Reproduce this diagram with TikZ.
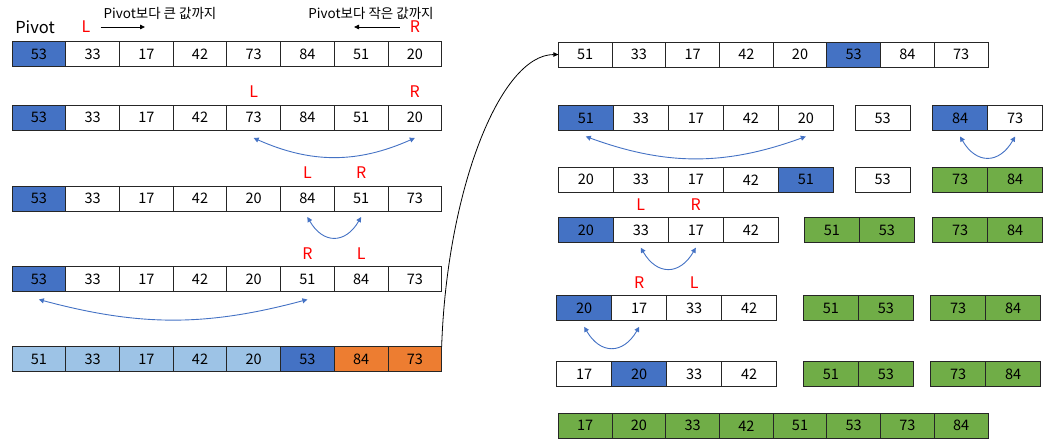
\documentclass[tikz,border=0pt]{standalone}
\usepackage{fontspec}
\setmainfont{Noto Sans CJK KR}
\usetikzlibrary{arrows.meta, positioning}
\definecolor{pivblue}{HTML}{4472C4}
\definecolor{lowblue}{HTML}{9DC3E6}
\definecolor{highorange}{HTML}{ED7D31}
\definecolor{donegreen}{HTML}{70AD47}
\tikzset{
  cell/.style={draw=black!85, line width=0.9pt, minimum width=53.7pt, minimum height=25pt,
    inner sep=0pt, outer sep=0pt, font=\fontsize{14.5}{14.5}\selectfont},
  wcell/.style={cell, minimum width=55pt},
  piv/.style={fill=pivblue},
  low/.style={fill=lowblue},
  high/.style={fill=highorange},
  done/.style={fill=donegreen},
  ptr/.style={text=red, inner sep=0pt, font=\fontsize{16}{16}\selectfont},
  note/.style={inner sep=0pt, font=\fontsize{13.5}{13.5}\selectfont},
  swap/.style={pivblue, line width=0.9pt, {Triangle[length=5pt,width=5pt]}-{Triangle[length=5pt,width=5pt]}},
  dir/.style={line width=0.8pt, -{Triangle[length=5pt,width=4.5pt]}},
}

\begin{document}
\begin{tikzpicture}[x=1pt, y=-1pt, node distance=0pt]
  \useasboundingbox (0,0) rectangle (1048,446);

  % Legende oben links
  \node[inner sep=0pt, font=\fontsize{16.5}{16.5}\selectfont] (pivotlbl) at (35,27) {Pivot};
  \node[ptr] (topL) at (86,27) {L};
  \node[ptr] (topR) at (415,27) {R};
  \node[note] (hintL) at (160,13) {Pivot보다 큰 값까지};
  \node[note] (hintR) at (371,13) {Pivot보다 작은 값까지};
  \coordinate (topLend) at (145,27);
  \coordinate (topRend) at (354,27);
  \draw[dir] ([xshift=10pt]topL.east) -- (topLend);
  \draw[dir] ([xshift=-10pt]topR.west) -- (topRend);

  % Erste Partition (links)
  \node[cell, piv] (l1c1) at (38.9,54) {53};
  \node[cell, right=of l1c1] (l1c2) {33}; \node[cell, right=of l1c2] (l1c3) {17};
  \node[cell, right=of l1c3] (l1c4) {42}; \node[cell, right=of l1c4] (l1c5) {73};
  \node[cell, right=of l1c5] (l1c6) {84}; \node[cell, right=of l1c6] (l1c7) {51};
  \node[cell, right=of l1c7] (l1c8) {20};

  \node[cell, piv] (l2c1) at (38.9,117.5) {53};
  \node[cell, right=of l2c1] (l2c2) {33}; \node[cell, right=of l2c2] (l2c3) {17};
  \node[cell, right=of l2c3] (l2c4) {42}; \node[cell, right=of l2c4] (l2c5) {73};
  \node[cell, right=of l2c5] (l2c6) {84}; \node[cell, right=of l2c6] (l2c7) {51};
  \node[cell, right=of l2c7] (l2c8) {20};
  \node[ptr, above=7pt of l2c5] (l2L) {L};
  \node[ptr, above=7pt of l2c8] (l2R) {R};
  \draw[swap] ([yshift=-8pt]l2c5.south) to[bend right=24] ([yshift=-8pt]l2c8.south);

  \node[cell, piv] (l3c1) at (38.9,198.5) {53};
  \node[cell, right=of l3c1] (l3c2) {33}; \node[cell, right=of l3c2] (l3c3) {17};
  \node[cell, right=of l3c3] (l3c4) {42}; \node[cell, right=of l3c4] (l3c5) {20};
  \node[cell, right=of l3c5] (l3c6) {84}; \node[cell, right=of l3c6] (l3c7) {51};
  \node[cell, right=of l3c7] (l3c8) {73};
  \node[ptr, above=7pt of l3c6] (l3L) {L};
  \node[ptr, above=7pt of l3c7] (l3R) {R};
  \draw[swap] ([yshift=-6pt]l3c6.south) to[bend right=60, looseness=1.5] ([yshift=-6pt]l3c7.south);

  \node[cell, piv] (l4c1) at (38.9,279) {53};
  \node[cell, right=of l4c1] (l4c2) {33}; \node[cell, right=of l4c2] (l4c3) {17};
  \node[cell, right=of l4c3] (l4c4) {42}; \node[cell, right=of l4c4] (l4c5) {20};
  \node[cell, right=of l4c5] (l4c6) {51}; \node[cell, right=of l4c6] (l4c7) {84};
  \node[cell, right=of l4c7] (l4c8) {73};
  \node[ptr, above=7pt of l4c6] (l4R) {R};
  \node[ptr, above=7pt of l4c7] (l4L) {L};
  \draw[swap] ([yshift=-8pt]l4c1.south) to[bend right=15] ([yshift=-8pt]l4c6.south);

  \node[cell, low] (l5c1) at (38.9,359) {51};
  \node[cell, low, right=of l5c1] (l5c2) {33}; \node[cell, low, right=of l5c2] (l5c3) {17};
  \node[cell, low, right=of l5c3] (l5c4) {42}; \node[cell, low, right=of l5c4] (l5c5) {20};
  \node[cell, piv, right=of l5c5] (l5c6) {53}; \node[cell, high, right=of l5c6] (l5c7) {84};
  \node[cell, high, right=of l5c7] (l5c8) {73};

  % Weiter rechts
  \node[cell] (r1c1) at (585.2,54.5) {51};
  \node[cell, right=of r1c1] (r1c2) {33}; \node[cell, right=of r1c2] (r1c3) {17};
  \node[cell, right=of r1c3] (r1c4) {42}; \node[cell, right=of r1c4] (r1c5) {20};
  \node[cell, piv, right=of r1c5] (r1c6) {53}; \node[cell, right=of r1c6] (r1c7) {84};
  \node[cell, right=of r1c7] (r1c8) {73};
  \draw[line width=0.8pt, -{Triangle[length=5pt,width=4.5pt]}] (l5c8.north east)
    .. controls (447,190) and (500,55) .. (r1c1.west);

  \node[wcell, piv] (r2c1) at (585.8,118) {51};
  \node[wcell, right=of r2c1] (r2c2) {33}; \node[wcell, right=of r2c2] (r2c3) {17};
  \node[wcell, right=of r2c3] (r2c4) {42}; \node[wcell, right=of r2c4] (r2c5) {20};
  \node[wcell] (r2d1) at (882.6,118) {53};
  \node[wcell, piv] (r2e1) at (960.1,118) {84}; \node[wcell, right=of r2e1] (r2e2) {73};
  \draw[swap] ([yshift=-6pt]r2c1.south) to[bend right=20] ([yshift=-6pt]r2c5.south);
  \draw[swap] ([yshift=-6pt]r2e1.south) to[bend right=60, looseness=1.5] ([yshift=-6pt]r2e2.south);

  \node[wcell] (r3c1) at (585.8,179.8) {20};
  \node[wcell, right=of r3c1] (r3c2) {33}; \node[wcell, right=of r3c2] (r3c3) {17};
  \node[wcell, right=of r3c3] (r3c4) {42}; \node[wcell, piv, right=of r3c4] (r3c5) {51};
  \node[wcell] (r3d1) at (882.6,179.8) {53};
  \node[wcell, done] (r3e1) at (960.1,179.8) {73}; \node[wcell, done, right=of r3e1] (r3e2) {84};

  \node[wcell, piv] (r4c1) at (585.8,230.2) {20};
  \node[wcell, right=of r4c1] (r4c2) {33}; \node[wcell, right=of r4c2] (r4c3) {17};
  \node[wcell, right=of r4c3] (r4c4) {42};
  \node[wcell, done] (r4d1) at (831.8,230.2) {51}; \node[wcell, done, right=of r4d1] (r4d2) {53};
  \node[wcell, done] (r4e1) at (960.1,230.2) {73}; \node[wcell, done, right=of r4e1] (r4e2) {84};
  \node[ptr, above=7pt of r4c2] (r4L) {L};
  \node[ptr, above=7pt of r4c3] (r4R) {R};
  \draw[swap] ([yshift=-5pt]r4c2.south) to[bend right=60, looseness=1.5] ([yshift=-5pt]r4c3.south);

  \node[wcell, piv] (r5c1) at (584.2,308.3) {20};
  \node[wcell, right=of r5c1] (r5c2) {17}; \node[wcell, right=of r5c2] (r5c3) {33};
  \node[wcell, right=of r5c3] (r5c4) {42};
  \node[wcell, done] (r5d1) at (830.8,308.3) {51}; \node[wcell, done, right=of r5d1] (r5d2) {53};
  \node[wcell, done] (r5e1) at (958.2,308.3) {73}; \node[wcell, done, right=of r5e1] (r5e2) {84};
  \node[ptr, above=7pt of r5c2] (r5R) {R};
  \node[ptr, above=7pt of r5c3] (r5L) {L};
  \draw[swap] ([yshift=-6pt]r5c1.south) to[bend right=60, looseness=1.5] ([yshift=-6pt]r5c2.south);

  \node[wcell] (r6c1) at (584.2,374) {17};
  \node[wcell, piv, right=of r6c1] (r6c2) {20}; \node[wcell, right=of r6c2] (r6c3) {33};
  \node[wcell, right=of r6c3] (r6c4) {42};
  \node[wcell, done] (r6d1) at (830.8,374) {51}; \node[wcell, done, right=of r6d1] (r6d2) {53};
  \node[wcell, done] (r6e1) at (958.2,374) {73}; \node[wcell, done, right=of r6e1] (r6e2) {84};

  % Ergebnis
  \node[cell, done] (r7c1) at (585.2,425.8) {17};
  \node[cell, done, right=of r7c1] (r7c2) {20}; \node[cell, done, right=of r7c2] (r7c3) {33};
  \node[cell, done, right=of r7c3] (r7c4) {42}; \node[cell, done, right=of r7c4] (r7c5) {51};
  \node[cell, done, right=of r7c5] (r7c6) {53}; \node[cell, done, right=of r7c6] (r7c7) {73};
  \node[cell, done, right=of r7c7] (r7c8) {84};
\end{tikzpicture}
\end{document}
